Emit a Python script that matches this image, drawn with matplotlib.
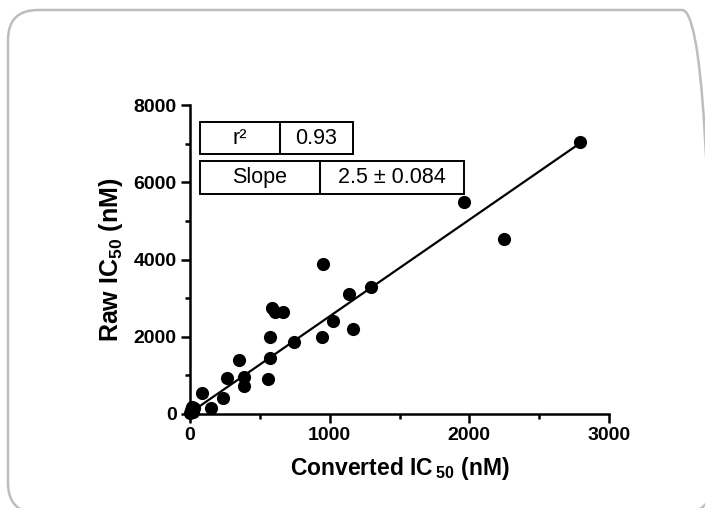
import matplotlib
matplotlib.use("Agg")
import matplotlib.pyplot as plt
import numpy as np
from matplotlib.patches import FancyBboxPatch, Rectangle

# Data
converted_ic50 = [0, 5, 12, 20, 30, 84, 150, 234, 263, 353, 389, 389, 561, 573, 573,
                  585, 608, 663, 747, 947, 954, 1026, 1140, 1169, 1293, 1961, 2250, 2794]
raw_ic50 = [26, 100, 190, 60, 150, 536, 163, 407, 940, 1399, 966, 733, 899, 1459, 2003,
            2738, 2650, 2650, 1857, 1987, 3886, 2417, 3100, 2202, 3282, 5500, 4534, 7039]
fit_slope = 2.5
fit_intercept = 30
table_rows = [["r²", "0.93"], ["Slope", "2.5 ± 0.084"]]
x_ticks = [0, 1000, 2000, 3000]
y_ticks = [0, 2000, 4000, 6000, 8000]

plt.rcParams['font.family'] = ['Liberation Sans', 'DejaVu Sans']
plt.rcParams['mathtext.fontset'] = 'custom'
plt.rcParams['mathtext.rm'] = 'Liberation Sans:bold'
plt.rcParams['mathtext.it'] = 'Liberation Sans:bold'
plt.rcParams['mathtext.bf'] = 'Liberation Sans:bold'

W, H = 705, 508
fig = plt.figure(figsize=(W / 100, H / 100), dpi=100)

# rounded frame (extends past right/bottom edges of the image)
frame = FancyBboxPatch((8 / 100, (H - 513) / 100), (712 - 8) / 100, (513 - 10) / 100,
                       boxstyle="round,pad=0,rounding_size=0.30",
                       transform=fig.dpi_scale_trans, fill=False,
                       edgecolor='#bdbdbd', linewidth=1.8, clip_on=False)
fig.patches.append(frame)

ax = fig.add_axes([190 / W, 1 - 414 / H, (609 - 190) / W, (414 - 105) / H])
x = np.array(converted_ic50)
y = np.array(raw_ic50)
ax.scatter(x, y, s=90, color='black', zorder=3, clip_on=False, linewidths=0)
xf = np.array([x.min(), x.max()])
ax.plot(xf, fit_slope * xf + fit_intercept, color='black', lw=1.6, zorder=2)

ax.set_xlim(0, 3000)
ax.set_ylim(0, 8000)
ax.set_xticks(x_ticks)
ax.set_yticks(y_ticks)
ax.set_xticks([500, 1500, 2500], minor=True)
ax.set_yticks([1000, 3000, 5000, 7000], minor=True)
for s in ['top', 'right']:
    ax.spines[s].set_visible(False)
for s in ['left', 'bottom']:
    ax.spines[s].set_linewidth(1.8)
ax.tick_params(which='major', direction='out', length=6.5, width=1.8, labelsize=14, pad=3)
ax.tick_params(which='minor', direction='out', length=3.5, width=1.8)
for lab in ax.get_xticklabels() + ax.get_yticklabels():
    lab.set_fontweight('bold')
ax.set_xlabel(r"Converted IC$\,$$_{50}$ (nM)", fontsize=16.5, fontweight='bold', labelpad=8)
ax.set_ylabel(r"Raw IC$_{50}$ (nM)", fontsize=18, fontweight='bold', labelpad=6)

# table boxes (pixel coordinates)
boxes = [(200, 122, 280, 353, 154), (200, 161, 320, 464, 194)]
for (x0, y0, xm, x1, y1), row in zip(boxes, table_rows):
    for (a, b), txt in zip([(x0, xm), (xm, x1)], row):
        r = Rectangle((a / W, 1 - y1 / H), (b - a) / W, (y1 - y0) / H,
                      transform=fig.transFigure, fill=False, edgecolor='black', lw=1.4)
        fig.patches.append(r)
        fig.text((a + b) / 2 / W, 1 - (y0 + y1) / 2 / H, txt, ha='center', va='center',
                 fontsize=15.5)

fig.savefig("out.png", dpi=100)
